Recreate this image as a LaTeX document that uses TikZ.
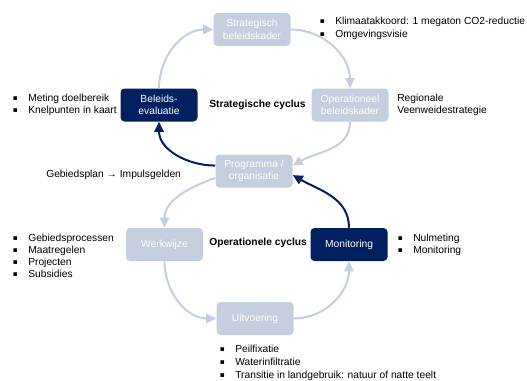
\documentclass[tikz,border=0pt]{standalone}
\usepackage{fontspec}
\setmainfont{Liberation Sans}
\newfontfamily\symfont{DejaVu Sans}
\usetikzlibrary{arrows.meta}
\definecolor{lightbox}{RGB}{197,206,222}
\definecolor{darkbox}{RGB}{0,32,96}
\newcommand\bul{\llap{\makebox[11.5pt][l]{\raisebox{0.6pt}{\symfont\fontsize{5.5}{5.5}\selectfont ▪}}}}
\begin{document}
\begin{tikzpicture}[x=0.75pt,y=0.75pt, font=\fontsize{7.7}{9.4}\selectfont,
 box/.style={rounded corners=3pt, minimum width=57.75pt, minimum height=24.75pt, align=center, text=white, inner sep=1pt},
 lbox/.style={box, fill=lightbox},
 dbox/.style={box, fill=darkbox},
 conn/.style={line width=1.5pt, -{Triangle[length=7.5pt,width=7pt]}},
 lconn/.style={conn, draw=lightbox},
 dconn/.style={conn, draw=darkbox},
 txt/.style={anchor=base west, inner sep=0pt},
 ]
\useasboundingbox (0,0) rectangle (527,-380);

% boxes
\node[lbox] (strat) at (252,-29.5) {Strategisch\\beleidskader};
\node[lbox] (oper) at (350,-105) {Operationeel\\beleidskader};
\node[dbox] (bel) at (159,-105) {Beleids-\\evaluatie};
\node[lbox] (prog) at (254,-171) {Programma /\\organisatie};
\node[lbox] (werk) at (164.5,-244.5) {Werkwijze};
\node[dbox] (mon) at (349,-244.5) {Monitoring};
\node[lbox] (uit) at (255,-318.5) {Uitvoering};

% connectors
\draw[lconn] (bel.north) to[out=90,in=180] (strat.west);
\draw[lconn] (strat.east) to[out=0,in=90] (oper.north);
\draw[lconn] (oper.south) to[out=-90,in=30] (prog.8);
\draw[dconn] (prog.172) to[out=180,in=-90] (bel.south);
\draw[lconn] (prog.190) to[out=200,in=90] (werk.north);
\draw[lconn] (werk.south) to[out=-90,in=180] (uit.west);
\draw[lconn] (uit.east) to[out=0,in=-90] (mon.south);
\draw[dconn] (mon.north) to[out=90,in=-30] (prog.-6);

% cycle labels
\node[txt,font=\fontsize{7.7}{9.4}\selectfont\bfseries] (sc) at (209,-107) {Strategische cyclus};
\node[txt,font=\fontsize{7.7}{9.4}\selectfont\bfseries] (oc) at (209,-245) {Operationele cyclus};

% annotations
\node[txt] (t1) at (28,-101.5) {\bul Meting doelbereik};
\node[txt] (t2) at (28,-113.5) {\bul Knelpunten in kaart};
\node[txt] (t3) at (335,-24) {\bul Klimaatakkoord: 1 megaton CO2-reductie};
\node[txt] (t4) at (335,-37) {\bul Omgevingsvisie};
\node[txt] (t5) at (397,-101) {Regionale};
\node[txt] (t6) at (397,-113) {Veenweidestrategie};
\node[txt] (t7) at (46,-177) {Gebiedsplan → Impulsgelden};
\node[txt] (t8) at (28,-241) {\bul Gebiedsprocessen};
\node[txt] (t9) at (28,-253) {\bul Maatregelen};
\node[txt] (t10) at (28,-265) {\bul Projecten};
\node[txt] (t11) at (28,-277) {\bul Subsidies};
\node[txt] (t12) at (413,-241) {\bul Nulmeting};
\node[txt] (t13) at (413,-253) {\bul Monitoring};
\node[txt] (t14) at (235,-352) {\bul Peilfixatie};
\node[txt] (t15) at (235,-365) {\bul Waterinfiltratie};
\node[txt] (t16) at (235,-378) {\bul Transitie in landgebruik: natuur of natte teelt};
\end{tikzpicture}
\end{document}
